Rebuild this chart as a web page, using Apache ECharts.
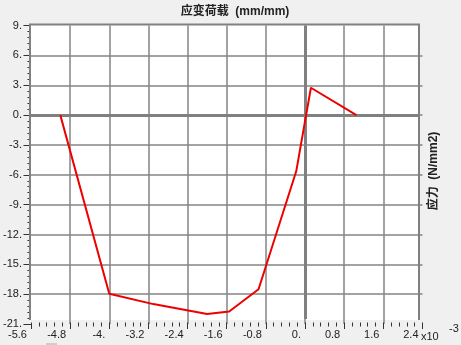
<!DOCTYPE html>
<html><head><meta charset="utf-8">
<script src="https://cdn.jsdelivr.net/npm/echarts@6/dist/echarts.min.js"></script>
<style>html,body{margin:0;padding:0;background:#f0f0f0;}#c{width:461px;height:345px;}</style>
</head><body><div id="c"></div>
<script>
// Data (strain in units of 1e-3 mm/mm, stress in N/mm2)
const strainX = [-5.0, -4.0, -3.1, -2.0, -1.55, -0.95, -0.18, 0.12, 1.05];
const stressY = [0, -17.95, -19.0, -20.0, -19.75, -17.5, -5.65, 2.75, 0];
const xMin = -5.6, xMax = 2.4, xStep = 0.8;
const yMin = -21, yMax = 9, yStep = 3;
const titleText = '应变荷载  (mm/mm)';
const yName = '应力  (N/mm2)';
const xScaleText = 'x10';
const xExpText = '-3';

const fmt = v => { const r = Math.round(v * 10) / 10; return Number.isInteger(r) ? (r === 0 ? '0' : String(r)) + '.' : r.toFixed(1); };
const font = '"Liberation Sans", Arial, sans-serif';
const tickColor = '#333';
const gridColor = '#858585';

const chart = echarts.init(document.getElementById('c'), null, {renderer: 'canvas'});
chart.setOption({
  backgroundColor: '#f0f0f0',
  animation: false,
  grid: {left: 30.5, top: 25.6, width: 392, height: 298.4, containLabel: false},
  xAxis: {
    type: 'value', min: xMin, max: xMax, interval: xStep, offset: -1.5, position: 'bottom',
    axisLine: {show: false, onZero: false},
    axisTick: {show: true, length: 6.5, lineStyle: {color: tickColor, width: 1}},
    minorTick: {show: true, splitNumber: 5, length: 4, lineStyle: {color: tickColor, width: 1}},
    splitLine: {show: true, showMinLine: false, showMaxLine: false, lineStyle: {color: gridColor, width: 1.5}},
    axisLabel: {formatter: fmt, align: 'right', padding: [0, 4, 0, 0], margin: 7, fontSize: 11, fontFamily: font, color: '#222', showMinLabel: true, showMaxLabel: true}
  },
  yAxis: {
    type: 'value', min: yMin, max: yMax, interval: yStep, position: 'left',
    axisLine: {show: false, onZero: false},
    axisTick: {show: true, length: 7.5, lineStyle: {color: tickColor, width: 1}},
    minorTick: {show: true, splitNumber: 5, length: 3.5, lineStyle: {color: tickColor, width: 1}},
    splitLine: {show: true, showMinLine: false, showMaxLine: false, lineStyle: {color: gridColor, width: 1.5}},
    axisLabel: {formatter: fmt, margin: 9, padding: [4, 0, 0, 0], fontSize: 11, fontFamily: font, color: '#222', showMinLabel: true, showMaxLabel: true}
  },
  series: [
    {
      type: 'line', data: [], z: 1, silent: true,
      markLine: {
        silent: true, symbol: 'none', label: {show: false},
        lineStyle: {color: '#808080', width: 3, type: 'solid'},
        data: [
          [{coord: [0, yMax]}, {coord: [0, -20.5]}],
          [{coord: [xMin, 0]}, {coord: [2.32, 0]}]
        ]
      }
    },
    {
      type: 'line', z: 5, symbol: 'none', silent: true,
      data: strainX.map((x, i) => [x, stressY[i]]),
      lineStyle: {color: '#ee0000', width: 2}
    }
  ],
  graphic: [
    {type: 'rect', z: -10, silent: true, shape: {x: 31, y: 25, width: 388, height: 295}, style: {fill: '#ffffff'}},
    {type: 'polyline', z: 10, silent: true, shape: {points: [[30, 320], [30, 24.5], [419, 24.5], [419, 320]]}, style: {fill: null, stroke: '#808080', lineWidth: 2}},
    {type: 'text', x: 235, y: 12, style: {text: titleText, align: 'center', verticalAlign: 'middle', font: 'bold 12px "Liberation Sans", "Noto Sans CJK SC", sans-serif', fill: '#222'}},
    {type: 'text', x: 433.5, y: 171, rotation: Math.PI / 2, style: {text: yName, align: 'center', verticalAlign: 'middle', font: 'bold 12px "Liberation Sans", "Noto Sans CJK SC", sans-serif', fill: '#222'}},
    {type: 'text', x: 421, y: 337, style: {text: xScaleText, align: 'left', verticalAlign: 'middle', font: '11px "Liberation Sans", Arial, sans-serif', fill: '#222'}},
    {type: 'text', x: 449, y: 329, style: {text: xExpText, align: 'left', verticalAlign: 'middle', font: '11px "Liberation Sans", Arial, sans-serif', fill: '#222'}},
    {type: 'rect', silent: true, shape: {x: 46, y: 343, width: 11, height: 2}, style: {fill: '#cdcdcd'}}
  ]
});
</script>
</body></html>
